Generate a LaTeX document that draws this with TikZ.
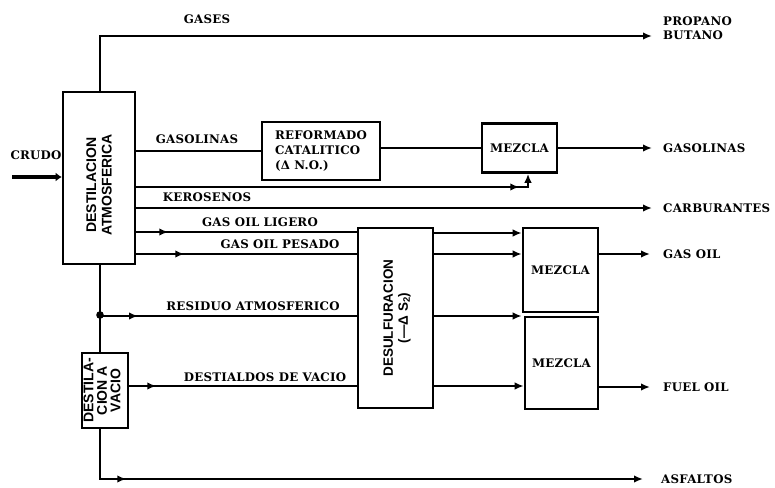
\documentclass[tikz,border=0pt]{standalone}
\usepackage{fontspec}
\setmainfont{DejaVu Serif}
\newfontfamily\lblfont{DejaVu Serif}[LetterSpace=2]
\newfontfamily\rotfont{Liberation Sans}
\usetikzlibrary{arrows.meta,decorations.markings}
\begin{document}
\begin{tikzpicture}[x=1pt,y=-1pt,
  flow/.style={line width=2.6pt},
  arr/.style={flow,-{Latex[length=9pt,width=7.5pt]}},
  midarr/.style={postaction={decorate},decoration={markings,
     mark=at position #1 with {\arrow{Latex[length=9pt,width=7.5pt]}}}},
  box/.style={draw,line width=2.6pt,inner sep=2pt,align=center},
  lbl/.style={font=\lblfont\bfseries\fontsize{11.8}{14}\selectfont,inner sep=1pt},
  rottxt/.style={font=\rotfont\bfseries\fontsize{14}{15.5}\selectfont,rotate=90,align=center},
]
\useasboundingbox (0,0) rectangle (775,487);

% boxes
\node[box,minimum width=72pt,minimum height=172pt] (dist) at (99,178) {};
\node[rottxt] (distt) at (99,185) {DESTILACION\\ATMOSFERICA};
\node[box,minimum width=118pt,minimum height=58pt,align=left,
  font=\lblfont\bfseries\fontsize{11.8}{15}\selectfont] (ref) at (321,151)
  {REFORMADO\\CATALITICO\\(Δ N.O.)};
\node[box,minimum width=75pt,minimum height=49pt,lbl] (mez1) at (519.5,148) {MEZCLA};
\node[box,minimum width=75pt,minimum height=180pt] (des) at (395.5,318) {};
\node[rottxt,font=\rotfont\bfseries\fontsize{13.5}{15}\selectfont] (dest) at (397,318) {DESULFURACION\\(—Δ S\textsubscript{2})};
\node[box,minimum width=75pt,minimum height=84pt,lbl] (mezgo) at (560.5,270) {MEZCLA};
\node[box,minimum width=73pt,minimum height=92pt,lbl] (mezfo) at (561.5,363) {MEZCLA};
\node[box,minimum width=46pt,minimum height=75pt,inner sep=0pt] (vac) at (105,390.5) {};
\node[rottxt,font=\rotfont\bfseries\fontsize{14}{13.5}\selectfont] (vact) at (102,390.5) {DESTILA-\\CION A\\VACIO};

% coordinates
\coordinate (gtop) at (100,36);
\coordinate (gend) at (652,36);
\coordinate (jn) at (100,315);
\coordinate (acor) at (100,479);
\coordinate (aend) at (643,479);
\coordinate (kcor) at (528,187);

% crude
\node[lbl] (crudo) at (36,155) {CRUDO};
\coordinate (c0) at (12,177);
\draw[line width=4.5pt,-{Latex[length=6pt,width=9pt]}] (c0) -- (dist.west |- c0);

% gases
\draw[arr] (dist.north -| gtop) -- (gtop) -- (gend);
\node[lbl] (lgases) at (207,19) {GASES};
\node[lbl,anchor=west,align=left,font=\lblfont\bfseries\fontsize{11.8}{14}\selectfont] (lprop) at (662,28) {PROPANO\\BUTANO};

% gasolinas
\draw[flow] (dist.east |- ref.west) -- (ref.west);
\node[lbl] (lgas) at (197,139) {GASOLINAS};
\draw[flow] (ref.east |- mez1.west) -- (mez1.west);
\coordinate (gasend) at (652,148);
\draw[arr] (mez1.east |- gasend) -- (gasend);
\node[lbl,anchor=west] (lgasout) at (662,148) {GASOLINAS};

% kerosenos
\draw[arr,midarr=383pt] (dist.east |- kcor) -- (kcor) -- (kcor |- mez1.south);
\node[lbl] (lker) at (207,197) {KEROSENOS};

% carburantes
\coordinate (carend) at (652,208);
\draw[arr] (dist.east |- carend) -- (carend);
\node[lbl,anchor=west] (lcar) at (662,208) {CARBURANTES};

% gas oil ligero / pesado
\coordinate (y1) at (0,232);
\coordinate (y2) at (0,254);
\draw[flow,midarr=32pt] (dist.east |- y1) -- (des.west |- y1);
\node[lbl] (lgol) at (260,222) {GAS OIL LIGERO};
\draw[flow,midarr=48pt] (dist.east |- y2) -- (des.west |- y2);
\node[lbl] (lgop) at (280,244) {GAS OIL PESADO};

% residue / vacuum
\draw[flow] (dist.south -| jn) -- (vac.north -| jn);
\fill (jn) circle (3.8pt);
\coordinate (y3) at (0,316);
\draw[flow,midarr=38pt] (jn |- y3) -- (des.west |- y3);
\node[lbl] (lres) at (253,306) {RESIDUO ATMOSFERICO};
\coordinate (y4) at (0,386);
\draw[flow,midarr=27pt] (vac.east |- y4) -- (des.west |- y4);
\node[lbl] (ldv) at (265,377) {DESTIALDOS DE VACIO};

% asfaltos
\draw[arr,midarr=76pt] (vac.south -| acor) -- (acor) -- (aend);
\node[lbl,anchor=west] (lasf) at (660,479) {ASFALTOS};

% desulfuracion outputs
\coordinate (y1b) at (0,233);
\draw[arr] (des.east |- y1b) -- (mezgo.west |- y1b);
\draw[arr] (des.east |- y2) -- (mezgo.west |- y2);
\draw[arr] (des.east |- y3) -- (mezgo.west |- y3);
\draw[arr] (des.east |- y4) -- (mezfo.west |- y4);

% outputs
\coordinate (goend) at (650,254);
\draw[arr] (mezgo.east |- goend) -- (goend);
\node[lbl,anchor=west] (lgo) at (662,254) {GAS OIL};
\coordinate (foend) at (650,387);
\draw[arr] (mezfo.east |- foend) -- (foend);
\node[lbl,anchor=west] (lfo) at (662,387) {FUEL OIL};
\end{tikzpicture}
\end{document}
